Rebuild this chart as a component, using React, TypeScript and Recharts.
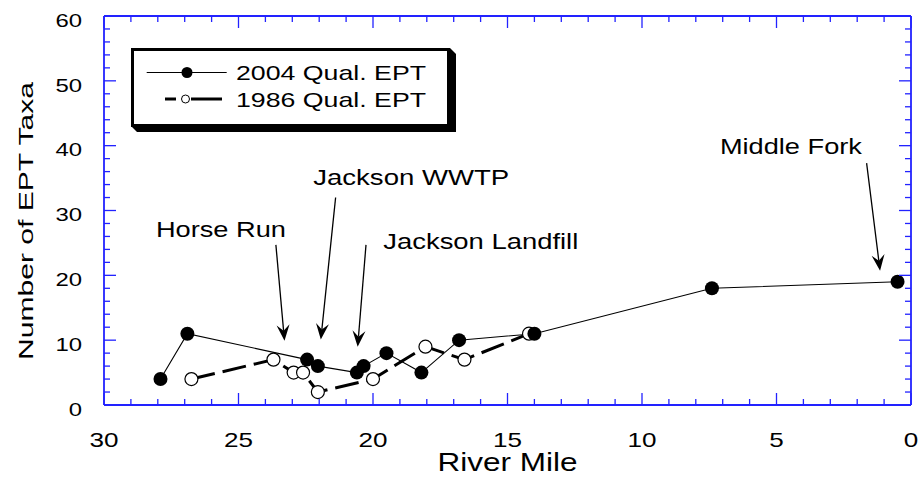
import React from 'react';
import {
	LineChart,
	Line,
	XAxis,
	YAxis,
	Legend,
	ReferenceLine,
} from 'recharts';

// river mile / number of EPT taxa
const miles2004 = [27.9, 26.9, 22.45, 22.05, 20.6, 20.35, 19.5, 18.2, 16.8, 14.0, 7.4, 0.5];
const taxa2004 = [4, 11, 7, 6, 5, 6, 8, 5, 10, 11, 18, 19];
const miles1986 = [26.75, 23.7, 22.95, 22.6, 22.05, 20.0, 18.05, 16.6, 14.2];
const taxa1986 = [4, 7, 5, 5, 2, 4, 9, 7, 11];

const xTicks = Array.from({ length: 31 }, (_, i) => i);
const yTicks = Array.from({ length: 31 }, (_, i) => i * 2);

// arrows in data units, text offset in px from arrow start
const notes = [
	{ text: 'Horse Run', from: [23.61, 24.7], to: [23.29, 9.9], dx: -120, dy: -7.7, w: 130 },
	{ text: 'Jackson WWTP', from: [21.39, 32.0], to: [21.94, 10.1], dx: -22.4, dy: -12.3, w: 196 },
	{ text: 'Jackson Landfill', from: [20.26, 24.7], to: [20.57, 9.0], dx: 17.3, dy: 4.3, w: 195 },
	{ text: 'Middle Fork', from: [1.65, 37.3], to: [1.15, 20.7], dx: -146.7, dy: -9.3, w: 142 },
];

const data2004 = miles2004.map((m, i) => ({ mile: m, ept: taxa2004[i] }));
const data1986 = miles1986.map((m, i) => ({ mile: m, ept: taxa1986[i] }));

const BLUE = '#2222ff';
const FONT = '"Liberation Sans", Arial, sans-serif';

function BottomTick(props: any) {
	const { x, y, payload } = props;
	const v = payload.value;
	const major = v % 5 === 0;
	return (
		<g>
			<line x1={x} y1={y} x2={x} y2={y - (major ? 12 : 6)} stroke={BLUE} strokeWidth={1.3} />
			{major && (
				<text x={x} y={y + 41.5} textAnchor="middle" fontSize={21} fontFamily={FONT} fill="#000"
					textLength={String(v).length * 14.5} lengthAdjust="spacingAndGlyphs">{v}</text>
			)}
		</g>
	);
}

function TopTick(props: any) {
	const { x, y, payload } = props;
	const major = payload.value % 5 === 0;
	return <line x1={x} y1={y} x2={x} y2={y + (major ? 12 : 6)} stroke={BLUE} strokeWidth={1.3} />;
}

function LeftTick(props: any) {
	const { x, y, payload } = props;
	const v = payload.value;
	const major = v % 10 === 0;
	return (
		<g>
			<line x1={x} y1={y} x2={x + (major ? 12 : 6)} y2={y} stroke={BLUE} strokeWidth={1.3} />
			{major && (
				<text x={x - 22} y={y + 10.7} textAnchor="end" fontSize={19} fontFamily={FONT} fill="#000"
					textLength={String(v).length * 13.3} lengthAdjust="spacingAndGlyphs">{v}</text>
			)}
		</g>
	);
}

function RightTick(props: any) {
	const { x, y, payload } = props;
	const major = payload.value % 10 === 0;
	return <line x1={x} y1={y} x2={x - (major ? 12 : 6)} y2={y} stroke={BLUE} strokeWidth={1.3} />;
}

function YTitle(props: any) {
	const vb = props.viewBox;
	const x = vb.x + vb.width - 70.7;
	const y = vb.y + vb.height / 2 + 10.5;
	return (
		<text x={x} y={y} transform={`rotate(-90, ${x}, ${y})`} textAnchor="middle" fontSize={21}
			fontFamily={FONT} fill="#000" textLength={278} lengthAdjust="spacingAndGlyphs">
			Number of EPT Taxa
		</text>
	);
}

function XTitle(props: any) {
	const vb = props.viewBox;
	return (
		<text x={vb.x + vb.width / 2} y={vb.y + 66} textAnchor="middle" fontSize={25} fontFamily={FONT}
			fill="#000" textLength={140} lengthAdjust="spacingAndGlyphs">
			River Mile
		</text>
	);
}

function Arrow(props: any) {
	const { x1, y1, x2, y2, note } = props;
	const dx = x2 - x1;
	const dy = y2 - y1;
	const len = Math.hypot(dx, dy);
	const ux = dx / len;
	const uy = dy / len;
	const px = -uy;
	const py = ux;
	const L = 16, W = 6.5, N = 10;
	const bx = x2 - ux * L, by = y2 - uy * L;
	const nx = x2 - ux * N, ny = y2 - uy * N;
	const head = `${x2},${y2} ${bx + px * W},${by + py * W} ${nx},${ny} ${bx - px * W},${by - py * W}`;
	return (
		<g>
			<line x1={x1} y1={y1} x2={nx} y2={ny} stroke="#000" strokeWidth={1.3} />
			<polygon points={head} fill="#000" />
			<text x={x1 + note.dx} y={y1 + note.dy} fontSize={22} fontFamily={FONT} fill="#000"
				textLength={note.w} lengthAdjust="spacingAndGlyphs">{note.text}</text>
		</g>
	);
}

function LegendBox(props: any) {
	const items = [...(props.payload || [])].sort((a: any, b: any) => String(b.value).localeCompare(String(a.value)));
	return (
		<svg width={470} height={140} style={{ display: 'block' }}>
			<polygon points="450,48 456,54 456,132 137,132 131,126" fill="#000" />
			<rect x={132.5} y={49.5} width={316} height={76} fill="#fff" stroke="#000" strokeWidth={3} />
			{items.map((it: any, i: number) => {
				const cy = i === 0 ? 72.5 : 99;
				const base = i === 0 ? 80 : 106.7;
				return (
					<g key={it.value}>
						{i === 0 ? (
							<>
								<line x1={146.7} y1={cy} x2={226.7} y2={cy} stroke="#000" strokeWidth={1} />
								<circle cx={187} cy={cy} r={5.5} fill="#000" />
							</>
						) : (
							<>
								<line x1={165} y1={cy} x2={176} y2={cy} stroke="#000" strokeWidth={3} />
								<line x1={191} y1={cy} x2={222} y2={cy} stroke="#000" strokeWidth={3} />
								<circle cx={185.5} cy={cy} r={4} fill="#fff" stroke="#000" strokeWidth={1} />
							</>
						)}
						<text x={236} y={base} fontSize={21} fontFamily={FONT} fill="#000"
							textLength={190} lengthAdjust="spacingAndGlyphs">{it.value}</text>
					</g>
				);
			})}
		</svg>
	);
}

export default function App() {
	return (
		<div style={{ position: 'absolute', left: 0, top: 0, background: '#fff' }}>
			<LineChart width={921} height={477} margin={{ top: 15, right: 9, bottom: 71, left: 103 }}>
				<XAxis xAxisId={0} dataKey="mile" type="number" domain={[0, 30]} reversed ticks={xTicks}
					interval={0} height={1} tickSize={0} tickMargin={0} tick={<BottomTick />} tickLine={false}
					axisLine={{ stroke: BLUE, strokeWidth: 1.8 }} allowDataOverflow label={<XTitle />} />
				<XAxis xAxisId="top" orientation="top" dataKey="mile" type="number" domain={[0, 30]} reversed
					ticks={xTicks} interval={0} height={1} tickSize={0} tickMargin={0} tick={<TopTick />}
					tickLine={false} axisLine={{ stroke: BLUE, strokeWidth: 1.8 }} allowDataOverflow />
				<YAxis yAxisId={0} type="number" domain={[0, 60]} ticks={yTicks} interval={0} width={1}
					tickSize={0} tickMargin={0} tick={<LeftTick />} tickLine={false}
					axisLine={{ stroke: BLUE, strokeWidth: 1.8 }} allowDataOverflow label={<YTitle />} />
				<YAxis yAxisId="right" orientation="right" type="number" domain={[0, 60]} ticks={yTicks}
					interval={0} width={1} tickSize={0} tickMargin={0} tick={<RightTick />} tickLine={false}
					axisLine={{ stroke: BLUE, strokeWidth: 1.8 }} allowDataOverflow />
				<Legend layout="vertical" align="center" verticalAlign="middle" content={<LegendBox />}
					wrapperStyle={{ left: 0, top: 0, width: 470, height: 140 }} />
				{notes.map((n) => (
					<ReferenceLine key={n.text} xAxisId={0} yAxisId={0}
						segment={[{ x: n.from[0], y: n.from[1] }, { x: n.to[0], y: n.to[1] }]}
						ifOverflow="visible" shape={(p: any) => <Arrow {...p} note={n} />} />
				))}
				<Line data={data1986} dataKey="ept" name="1986 Qual. EPT" xAxisId={0} yAxisId={0}
					type="linear" stroke="#000" strokeWidth={3} strokeDasharray="24 8"
					dot={{ r: 6.5, fill: '#fff', stroke: '#000', strokeWidth: 1.2, strokeDasharray: 'none' }}
					activeDot={false} isAnimationActive={false} />
				<Line data={data2004} dataKey="ept" name="2004 Qual. EPT" xAxisId={0} yAxisId={0}
					type="linear" stroke="#000" strokeWidth={1.1}
					dot={{ r: 7, fill: '#000', stroke: '#000', strokeWidth: 0 }}
					activeDot={false} isAnimationActive={false} />
			</LineChart>
		</div>
	);
}
